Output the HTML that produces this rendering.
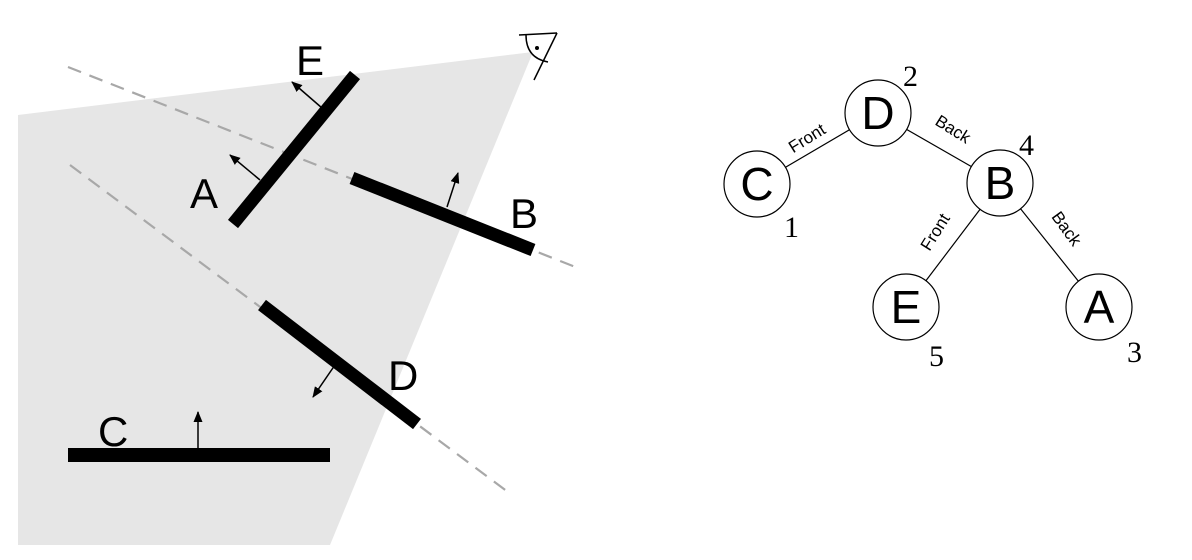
<!DOCTYPE html>
<html><head><meta charset="utf-8"><style>
html,body{margin:0;padding:0;background:#fff;}
svg{display:block;}
text{font-family:"Liberation Sans",sans-serif;}
.n{font-family:"Liberation Serif",serif;font-size:30px;}
</style></head><body>
<svg width="1192" height="560" viewBox="0 0 1192 560" xmlns="http://www.w3.org/2000/svg">
<defs><marker id="ah" markerWidth="11" markerHeight="9" refX="10" refY="4.5" orient="auto" markerUnits="userSpaceOnUse"><path d="M0,0 L11,4.5 L0,9 Z" fill="#000"/></marker></defs>
<polygon points="18,115 533,52 330,545 18,545" fill="#e6e6e6"/>
<line x1="68" y1="67" x2="578" y2="268" stroke="#a8a8a8" stroke-width="2.2" stroke-dasharray="14,9"/>
<line x1="70" y1="165" x2="512" y2="495" stroke="#a8a8a8" stroke-width="2.2" stroke-dasharray="14,9"/>
<g stroke="#000" stroke-width="13">
<line x1="233" y1="224" x2="355" y2="75"/>
<line x1="352" y1="178" x2="533" y2="250"/>
<line x1="262" y1="305" x2="417" y2="424"/>
<line x1="68" y1="455" x2="330" y2="455" stroke-width="14"/>
</g>
<g stroke="#000" stroke-width="1.5" marker-end="url(#ah)">
<line x1="322" y1="108" x2="292" y2="82"/>
<line x1="260" y1="180" x2="230" y2="155"/>
<line x1="447" y1="207" x2="458" y2="173"/>
<line x1="337" y1="362" x2="313" y2="397"/>
<line x1="198" y1="448" x2="198" y2="412"/>
</g>
<g font-size="42">
<text x="296" y="75">E</text>
<text x="190" y="208">A</text>
<text x="510" y="228">B</text>
<text x="388" y="390">D</text>
<text x="98" y="446">C</text>
</g>
<g stroke="#000" stroke-width="1.5" fill="none">
<line x1="519" y1="35" x2="557" y2="33"/>
<line x1="557" y1="33" x2="534" y2="80"/>
<path d="M526,35 Q526,58 548,62"/>
</g>
<circle cx="537" cy="48" r="2" fill="#000"/>
<g stroke="#000" stroke-width="1.2">
<line x1="757" y1="184" x2="878" y2="113"/>
<line x1="878" y1="113" x2="1000" y2="183"/>
<line x1="1000" y1="183" x2="906" y2="307"/>
<line x1="1000" y1="183" x2="1099" y2="307"/>
</g>
<g fill="#fff" stroke="#000" stroke-width="1.2">
<circle cx="757" cy="184" r="33"/>
<circle cx="878" cy="113" r="33"/>
<circle cx="1000" cy="183" r="33"/>
<circle cx="906" cy="307" r="33"/>
<circle cx="1099" cy="307" r="33"/>
</g>
<g font-size="46" text-anchor="middle">
<text x="757" y="200">C</text>
<text x="878" y="129">D</text>
<text x="1000" y="199">B</text>
<text x="906" y="323">E</text>
<text x="1099" y="323">A</text>
</g>
<g font-size="17" text-anchor="middle">
<text transform="translate(810,143) rotate(-32)">Front</text>
<text transform="translate(950,134) rotate(32)">Back</text>
<text transform="translate(940,235) rotate(-58)">Front</text>
<text transform="translate(1062,232) rotate(54)">Back</text>
</g>
<text class="n" x="903" y="86">2</text>
<text class="n" x="1019" y="155">4</text>
<text class="n" x="784" y="237">1</text>
<text class="n" x="929" y="366">5</text>
<text class="n" x="1127" y="362">3</text>
</svg>
</body></html>
